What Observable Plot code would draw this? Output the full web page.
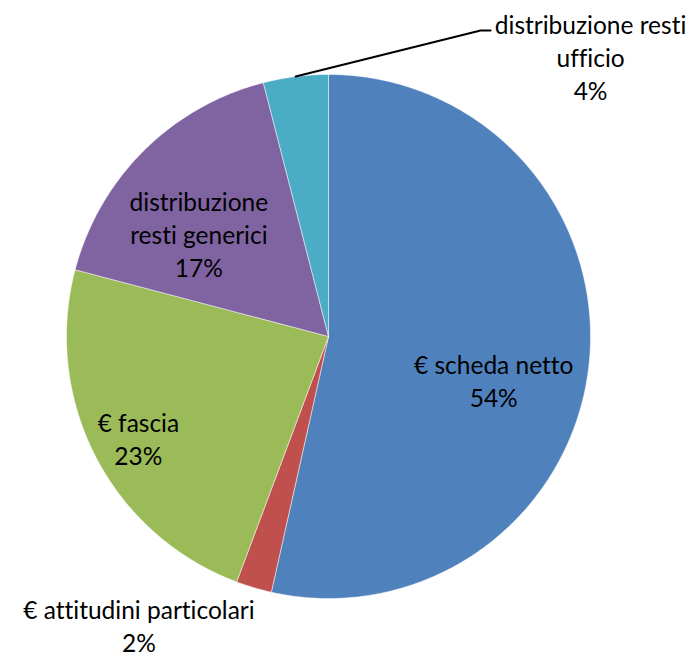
<!DOCTYPE html>
<html>
<head>
<meta charset="utf-8">
<script src="https://cdn.jsdelivr.net/npm/d3@7"></script>
<script src="https://cdn.jsdelivr.net/npm/@observablehq/plot@0.6"></script>
<style>
  html, body { margin: 0; padding: 0; background: #fff; }
  svg { display: block; }
  svg text { font-variant-ligatures: none; }
</style>
</head>
<body>
<div id="chart"></div>
<script>
// ---- data ----
const categories = [
  "€ scheda netto",
  "€ attitudini particolari",
  "€ fascia",
  "distribuzione resti generici",
  "distribuzione resti ufficio"
];
const values = [53.5, 2.2, 23.4, 16.9, 4.0];
const labelTexts = [
  "€ scheda netto",
  "€ attitudini particolari",
  "€ fascia",
  "distribuzione\nresti generici",
  "distribuzione resti\nufficio"
];
const colors = ["#4F81BD", "#C0504D", "#9BBB59", "#8064A2", "#4BACC6"];

// ---- layout ----
const W = 697, H = 658;
const cx = 328, cy = 336, R = 262;
const FONT = 24.5;
const LH = 33;
// label placement: [radius fraction, angle offset (deg) from slice middle]
const labelPolar = [[0.652, 8.4], [1.316, 16.8], [0.823, -0.8], [0.633, -6.6], [1.464, -309.7]];

const total = d3.sum(values);
const toXY = (deg, r) => {
  const a = deg * Math.PI / 180;
  return [cx + r * Math.sin(a), cy - r * Math.cos(a)];
};

let acc = 0;
const slices = categories.map((c, i) => {
  const a0 = acc / total * 360;
  acc += values[i];
  const a1 = acc / total * 360;
  return {key: c, a0, a1, mid: (a0 + a1) / 2, value: values[i], i};
});

const pts = [];
for (const s of slices) {
  const n = Math.max(4, Math.ceil((s.a1 - s.a0) / 0.5));
  pts.push({key: s.key, x: cx, y: cy});
  for (let k = 0; k <= n; k++) {
    const [x, y] = toXY(s.a0 + (s.a1 - s.a0) * k / n, R);
    pts.push({key: s.key, x, y});
  }
  pts.push({key: s.key, x: cx, y: cy});
}

const labels = slices.map(s => {
  const [f, off] = labelPolar[s.i];
  const [x, y] = toXY(s.mid + off, f * R);
  return {
    key: s.key,
    text: labelTexts[s.i] + "\n" + Math.round(s.value / total * 100) + "%",
    x, y
  };
});

// leader line for the small outside slice (ufficio)
const uff = slices[4];
const uffLab = labels[4];
const [lx0, ly0] = toXY(uff.mid, R);
const leader = [
  {x: lx0, y: ly0},
  {x: uffLab.x - 110, y: uffLab.y - LH + 7},
  {x: uffLab.x - 100, y: uffLab.y - LH + 7}
];

const chart = Plot.plot({
  width: W,
  height: H,
  margin: 0,
  x: {domain: [0, W], range: [0, W], axis: null},
  y: {domain: [0, H], range: [0, H], axis: null},
  color: {domain: categories, range: colors},
  style: {fontFamily: "Lato, 'Open Sans', sans-serif", background: "#fff"},
  marks: [
    Plot.line(pts, {x: "x", y: "y", z: "key", fill: "key", stroke: "#ffffff", strokeOpacity: 0.6, strokeWidth: 0.8, curve: "linear"}),
    Plot.line(leader, {x: "x", y: "y", stroke: "#000", strokeWidth: 2}),
    Plot.text(labels, {x: "x", y: "y", text: "text", fontSize: FONT, lineHeight: LH / FONT, fill: "#000", textAnchor: "middle", lineAnchor: "middle"})
  ]
});
document.getElementById("chart").appendChild(chart);
</script>
</body>
</html>
